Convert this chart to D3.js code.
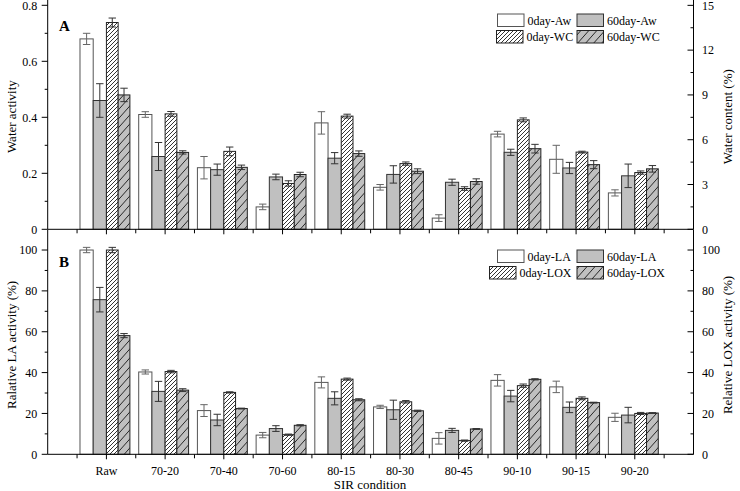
<!DOCTYPE html>
<html><head><meta charset="utf-8">
<script src="https://cdn.jsdelivr.net/npm/d3@7"></script>
<style>body{margin:0;background:#fff}</style>
</head><body><svg id="c" width="740" height="491"></svg>
<script>
// ---------- data ----------
const categories = ["Raw","70-20","70-40","70-60","80-15","80-30","80-45","90-10","90-15","90-20"];
// Panel A
const aw0     = [0.68, 0.41, 0.22, 0.08, 0.38, 0.15, 0.04, 0.34, 0.25, 0.13];
const aw0Err  = [0.02, 0.01, 0.04, 0.01, 0.04, 0.01, 0.012, 0.01, 0.05, 0.011];
const aw60    = [0.46, 0.26, 0.213, 0.187, 0.254, 0.196, 0.168, 0.275, 0.219, 0.191];
const aw60Err = [0.06, 0.05, 0.02, 0.01, 0.02, 0.031, 0.011, 0.011, 0.02, 0.042];
const wc0     = [13.85, 7.73, 5.22, 3.07, 7.58, 4.4, 2.73, 7.33, 5.17, 3.8];
const wc0Err  = [0.3, 0.16, 0.29, 0.18, 0.13, 0.11, 0.12, 0.13, 0.06, 0.11];
const wc60    = [9.0, 5.15, 4.15, 3.67, 5.07, 3.89, 3.2, 5.4, 4.33, 4.05];
const wc60Err = [0.45, 0.11, 0.15, 0.15, 0.18, 0.16, 0.18, 0.29, 0.27, 0.22];
// Panel B
const la0     = [100, 40.3, 21.4, 9.4, 35.2, 23.2, 7.8, 36.2, 33.0, 18.1];
const la0Err  = [1.3, 1.0, 2.9, 1.3, 2.7, 0.8, 2.8, 2.8, 2.8, 2.0];
const la60    = [75.7, 30.8, 16.8, 12.6, 27.4, 21.8, 11.7, 28.5, 23.0, 19.2];
const la60Err = [6.0, 4.9, 2.8, 1.4, 3.2, 4.7, 1.0, 2.8, 2.6, 3.8];
const lox0    = [100, 40.5, 30.3, 9.6, 36.8, 25.7, 6.7, 33.6, 27.4, 20.0];
const lox0Err = [1.3, 0.6, 0.3, 0.3, 0.5, 0.6, 0.3, 0.8, 0.7, 0.5];
const lox60   = [58.1, 31.4, 22.4, 14.2, 26.7, 21.3, 12.4, 36.7, 25.3, 20.2];
const lox60Err= [1.0, 0.7, 0.2, 0.3, 0.5, 0.3, 0.2, 0.3, 0.2, 0.2];
const legendA = ["0day-Aw","60day-Aw","0day-WC","60day-WC"];
const legendB = ["0day-LA","60day-LA","0day-LOX","60day-LOX"];

// ---------- setup ----------
const svg = d3.select("#c").attr("font-family", "'Liberation Serif', 'Times New Roman', serif");
const X0 = 47.7, X1 = 693.5;
const x = d3.scaleLinear().domain([0, 11]).range([X0, X1]);
const step = x(1) - x(0);
const GRAY = "#c0c0c0";

const defs = svg.append("defs");
const pd = defs.append("pattern").attr("id","dense").attr("patternUnits","userSpaceOnUse")
  .attr("width",4).attr("height",4);
pd.append("rect").attr("width",4).attr("height",4).attr("fill","#fff");
pd.append("path").attr("d","M-1,1 l2,-2 M0,4 l4,-4 M3,5 l2,-2").attr("stroke","#000").attr("stroke-width",0.8);
const ps = defs.append("pattern").attr("id","sparse").attr("patternUnits","userSpaceOnUse")
  .attr("width",8).attr("height",9);
ps.append("rect").attr("width",8).attr("height",9).attr("fill",GRAY);
ps.append("path").attr("d","M0,9 L8,0 M-8,9 L0,0 M8,9 L16,0").attr("stroke","#000").attr("stroke-width",0.8);

const styles = [
  {fill:"#fff", stroke:"#555", err:"#666"},
  {fill:GRAY, stroke:"#333", err:"#333"},
  {fill:"url(#dense)", stroke:"#222", err:"#333"},
  {fill:"url(#sparse)", stroke:"#222", err:"#333"}
];

function panel(cfg) {
  const g = svg.append("g");
  const yL = d3.scaleLinear().domain(cfg.lDomain).range([cfg.base, cfg.top]);
  const yR = d3.scaleLinear().domain(cfg.rDomain).range([cfg.base, cfg.top]);
  const wA = 0.225*step, wB = 0.2*step;
  const series = [
    {v:cfg.s[0], e:cfg.e[0], y:yL, off:-2*wA, w:wA},
    {v:cfg.s[1], e:cfg.e[1], y:yL, off:-wA, w:wA},
    {v:cfg.s[2], e:cfg.e[2], y:yR, off:0, w:wB},
    {v:cfg.s[3], e:cfg.e[3], y:yR, off:wB, w:wB}
  ];
  series.forEach((s, si) => {
    const st = styles[si];
    g.selectAll(null).data(s.v).enter().append("rect")
      .attr("x",(d,i)=>x(i+1)+s.off).attr("width",s.w)
      .attr("y",d=>s.y(d)).attr("height",d=>cfg.base - s.y(d))
      .attr("fill",st.fill).attr("stroke",st.stroke).attr("stroke-width",1);
  });
  series.forEach((s, si) => {
    const st = styles[si];
    s.v.forEach((d,i) => {
      const cx = x(i+1)+s.off+s.w/2, y1 = s.y(d+s.e[i]), y2 = s.y(d-s.e[i]);
      const cap = 3.7;
      g.append("path").attr("d",`M${cx},${y1}V${y2}M${cx-cap},${y1}H${cx+cap}M${cx-cap},${y2}H${cx+cap}`)
        .attr("stroke",st.err).attr("stroke-width",1).attr("fill","none");
    });
  });
  const ax = g.append("g").attr("stroke","#000").attr("stroke-width",1);
  ax.append("line").attr("x1",X0).attr("x2",X1).attr("y1",cfg.base).attr("y2",cfg.base);
  ax.append("line").attr("x1",X0).attr("x2",X0).attr("y1",cfg.base).attr("y2",cfg.top);
  ax.append("line").attr("x1",X1).attr("x2",X1).attr("y1",cfg.base).attr("y2",cfg.top);
  d3.range(1, 22).forEach(k => {
    const p = k/2, len = (k%2===0) ? 5 : 4;
    ax.append("line").attr("x1",x(p)).attr("x2",x(p)).attr("y1",cfg.base).attr("y2",cfg.base+len);
  });
  cfg.lMinor.forEach(v => ax.append("line").attr("x1",X0-3).attr("x2",X0).attr("y1",yL(v)).attr("y2",yL(v)));
  cfg.lMajor.forEach(v => {
    ax.append("line").attr("x1",X0-6).attr("x2",X0).attr("y1",yL(v)).attr("y2",yL(v));
    g.append("text").attr("x",X0-10.5).attr("y",yL(v)).attr("dy","0.35em").attr("text-anchor","end")
      .attr("font-size",12).text(cfg.lFmt(v));
  });
  cfg.rMinor.forEach(v => ax.append("line").attr("x1",X1-3).attr("x2",X1).attr("y1",yR(v)).attr("y2",yR(v)));
  cfg.rMajor.forEach(v => {
    ax.append("line").attr("x1",X1-6).attr("x2",X1).attr("y1",yR(v)).attr("y2",yR(v));
    g.append("text").attr("x",X1+8.5).attr("y",yR(v)).attr("dy","0.35em").attr("text-anchor","start")
      .attr("font-size",12).text(cfg.rFmt(v));
  });
  const mid = (cfg.base + cfg.top)/2 + cfg.tShift;
  g.append("text").attr("transform",`translate(${cfg.lTx},${mid}) rotate(-90)`).attr("text-anchor","middle")
    .attr("font-size",13).text(cfg.lTitle);
  g.append("text").attr("transform",`translate(${cfg.rTx},${mid}) rotate(-90)`).attr("text-anchor","middle")
    .attr("font-size",13).text(cfg.rTitle);
  g.append("text").attr("x",59).attr("y",cfg.letterY).attr("font-size",15).attr("font-weight","bold").text(cfg.letter);
  const lg = g.append("g");
  cfg.legend.forEach((name, i) => {
    const col = i%2, row = Math.floor(i/2);
    const bx = col===0 ? (row===0 ? 497.5 : 496.5) : 577;
    const by = cfg.legY + row*16.5;
    const bw = 26.5;
    const st = styles[i];
    const rx = (col===0 && row===1 && cfg.wideRow) ? bx-7 : bx;
    lg.append("rect").attr("x", rx).attr("y",by)
      .attr("width",bw).attr("height",12.5)
      .attr("fill",st.fill).attr("stroke",st.stroke);
    lg.append("text").attr("x",rx+bw+3.5).attr("y",by+10.5)
      .attr("font-size",12).text(name);
  });
}

panel({
  base:229.3, top:0, lDomain:[0, 229.3/280], rDomain:[0, 229.3/14.93],
  s:[aw0, aw60, wc0, wc60], e:[aw0Err, aw60Err, wc0Err, wc60Err],
  lMajor:[0,0.2,0.4,0.6,0.8], lMinor:[0.1,0.3,0.5,0.7], lFmt:d=>d===0?"0":d.toFixed(1),
  rMajor:[0,3,6,9,12,15], rMinor:[1.5,4.5,7.5,10.5,13.5], rFmt:d=>String(d),
  lTitle:"Water activity", rTitle:"Water content (%)", lTx:16, rTx:732, tShift:2,
  letter:"A", letterY:31, legend:legendA, legY:14
});
panel({
  base:454.3, top:229.6, lDomain:[0,110], rDomain:[0,110],
  s:[la0, la60, lox0, lox60], e:[la0Err, la60Err, lox0Err, lox60Err],
  lMajor:[0,20,40,60,80,100], lMinor:[10,30,50,70,90], lFmt:d=>String(d),
  rMajor:[0,20,40,60,80,100], rMinor:[10,30,50,70,90], rFmt:d=>String(d),
  lTitle:"Ralative LA activity (%)", rTitle:"Relative LOX activity (%)", lTx:16, rTx:732, tShift:3,
  letter:"B", letterY:267, legend:legendB, legY:250, wideRow:true
});

svg.append("g").selectAll("text").data(categories).enter().append("text")
  .attr("x",(d,i)=>x(i+1)).attr("y",474.5).attr("text-anchor","middle").attr("font-size",12).text(d=>d);
svg.append("text").attr("x",370).attr("y",489).attr("text-anchor","middle").attr("font-size",13).text("SIR condition");
</script></body></html>
